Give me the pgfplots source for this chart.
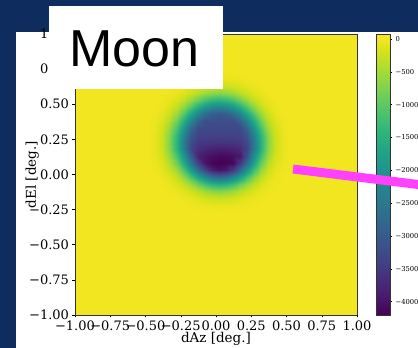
\documentclass[border=0pt]{standalone}
\usepackage{pgfplots}
\pgfplotsset{compat=1.18}
\usepackage{fontspec}
\setmainfont{DejaVu Serif}
\newfontfamily\arialfont{Liberation Sans}
\definecolor{bgblue}{HTML}{0E2D5E}
\definecolor{magline}{HTML}{FF40FF}
\begin{document}
\begin{tikzpicture}[x=1pt,y=1pt]
\useasboundingbox (0,0) rectangle (418,348);
\clip (0,0) rectangle (418,348);
\fill[bgblue] (0,0) rectangle (418,348);
\fill[white] (16,0) rectangle (418,316);
\begin{axis}[
  at={(75pt,33pt)}, anchor=south west,
  scale only axis, width=282pt, height=281pt,
  view={0}{90},
  xmin=-1, xmax=1, ymin=-1, ymax=1,
  enlargelimits=false,
  colormap/viridis,
  point meta min=-4203, point meta max=76,
  axis on top,
  xtick={-1,-0.75,-0.5,-0.25,0,0.25,0.5,0.75,1},
  ytick={-1,-0.75,-0.5,-0.25,0,0.25,0.5,0.75,1},
  xticklabels={−1.00,−0.75,−0.50,−0.25,0.00,0.25,0.50,0.75,1.00},
  yticklabels={−1.00,−0.75,−0.50,−0.25,0.00,0.25,0.50,0.75,1.00},
  ztick=\empty,
  xtick pos=bottom, ytick pos=left,
  tick align=outside,
  major tick length=2.5pt,
  tick style={black, line width=0.5pt},
  axis line style={black!80, line width=0.6pt},
  xticklabel style={font=\fontsize{13}{14}\selectfont},
  yticklabel style={font=\fontsize{13}{14}\selectfont},
  xlabel={dAz [deg.]}, ylabel={dEl [deg.]},
  every axis x label/.style={at={(axis description cs:0.5,-0.0996)}, anchor=base, font=\fontsize{13.5}{15}\selectfont},
  every axis y label/.style={at={(axis description cs:-0.152,0.5)}, rotate=90, anchor=center, font=\fontsize{13.5}{15}\selectfont},
  colorbar,
  colorbar style={
    at={(parent axis.north east)}, anchor=north west, xshift=10.5pt,
    scale only axis, width=14pt, height=281pt,
    ytick={-4000,-3500,-3000,-2500,-2000,-1500,-1000,-500,0},
    yticklabels={−4000,−3500,−3000,−2500,−2000,−1500,−1000,−500,0},
    yticklabel style={font=\fontsize{6.8}{8}\selectfont},
    ytick pos=right, yticklabel pos=right,
    tick align=outside, major tick length=2pt,
    tick style={black, line width=0.4pt},
    axis line style={black!80, line width=0.5pt},
  },
]
% uniform background level
\addplot3[surf, shader=flat, mesh/cols=2] coordinates {
(-1,-1,0) (1,-1,0)
(-1,1,0) (1,1,0)
};
% Moon signal
\addplot3[surf, shader=interp, mesh/cols=21] coordinates {
(-0.48,-0.27,0) (-0.43,-0.27,0) (-0.38,-0.27,0) (-0.33,-0.27,0) (-0.28,-0.27,0) (-0.23,-0.27,0) (-0.18,-0.27,0) (-0.13,-0.27,0) (-0.08,-0.27,0) (-0.03,-0.27,0) (0.02,-0.27,0) (0.07,-0.27,0) (0.12,-0.27,0) (0.17,-0.27,0) (0.22,-0.27,0) (0.27,-0.27,0) (0.32,-0.27,0) (0.37,-0.27,0) (0.42,-0.27,0) (0.47,-0.27,0) (0.52,-0.27,0)
(-0.48,-0.22,0) (-0.43,-0.22,0) (-0.38,-0.22,0) (-0.33,-0.22,0) (-0.28,-0.22,0) (-0.23,-0.22,0) (-0.18,-0.22,-13) (-0.13,-0.22,-42) (-0.08,-0.22,-61) (-0.03,-0.22,-74) (0.02,-0.22,-80) (0.07,-0.22,-74) (0.12,-0.22,-61) (0.17,-0.22,-42) (0.22,-0.22,-13) (0.27,-0.22,0) (0.32,-0.22,0) (0.37,-0.22,0) (0.42,-0.22,0) (0.47,-0.22,0) (0.52,-0.22,0)
(-0.48,-0.17,0) (-0.43,-0.17,0) (-0.38,-0.17,0) (-0.33,-0.17,0) (-0.28,-0.17,0) (-0.23,-0.17,-45) (-0.18,-0.17,-83) (-0.13,-0.17,-141) (-0.08,-0.17,-206) (-0.03,-0.17,-244) (0.02,-0.17,-257) (0.07,-0.17,-244) (0.12,-0.17,-206) (0.17,-0.17,-141) (0.22,-0.17,-83) (0.27,-0.17,-45) (0.32,-0.17,0) (0.37,-0.17,0) (0.42,-0.17,0) (0.47,-0.17,0) (0.52,-0.17,0)
(-0.48,-0.12,0) (-0.43,-0.12,0) (-0.38,-0.12,0) (-0.33,-0.12,-10) (-0.28,-0.12,-61) (-0.23,-0.12,-129) (-0.18,-0.12,-246) (-0.13,-0.12,-384) (-0.08,-0.12,-549) (-0.03,-0.12,-656) (0.02,-0.12,-707) (0.07,-0.12,-656) (0.12,-0.12,-549) (0.17,-0.12,-384) (0.22,-0.12,-246) (0.27,-0.12,-129) (0.32,-0.12,-61) (0.37,-0.12,-10) (0.42,-0.12,0) (0.47,-0.12,0) (0.52,-0.12,0)
(-0.48,-0.07,0) (-0.43,-0.07,0) (-0.38,-0.07,0) (-0.33,-0.07,-61) (-0.28,-0.07,-155) (-0.23,-0.07,-319) (-0.18,-0.07,-584) (-0.13,-0.07,-906) (-0.08,-0.07,-1229) (-0.03,-0.07,-1455) (0.02,-0.07,-1536) (0.07,-0.07,-1465) (0.12,-0.07,-1244) (0.17,-0.07,-919) (0.22,-0.07,-592) (0.27,-0.07,-323) (0.32,-0.07,-156) (0.37,-0.07,-61) (0.42,-0.07,0) (0.47,-0.07,0) (0.52,-0.07,0)
(-0.48,-0.02,0) (-0.43,-0.02,0) (-0.38,-0.02,-45) (-0.33,-0.02,-129) (-0.28,-0.02,-320) (-0.23,-0.02,-666) (-0.18,-0.02,-1166) (-0.13,-0.02,-1722) (-0.08,-0.02,-2211) (-0.03,-0.02,-2621) (0.02,-0.02,-2761) (0.07,-0.02,-2660) (0.12,-0.02,-2267) (0.17,-0.02,-1775) (0.22,-0.02,-1199) (0.27,-0.02,-681) (0.32,-0.02,-325) (0.37,-0.02,-130) (0.42,-0.02,-45) (0.47,-0.02,0) (0.52,-0.02,0)
(-0.48,0.03,0) (-0.43,0.03,-13) (-0.38,0.03,-84) (-0.33,0.03,-247) (-0.28,0.03,-585) (-0.23,0.03,-1157) (-0.18,0.03,-1882) (-0.13,0.03,-2673) (-0.08,0.03,-3352) (-0.03,0.03,-3814) (0.02,0.03,-4005) (0.07,0.03,-3894) (0.12,0.03,-3476) (0.17,0.03,-2791) (0.22,0.03,-1960) (0.27,0.03,-1196) (0.32,0.03,-598) (0.37,0.03,-250) (0.42,0.03,-84) (0.47,0.03,-13) (0.52,0.03,0)
(-0.48,0.08,0) (-0.43,0.08,-42) (-0.38,0.08,-142) (-0.33,0.08,-384) (-0.28,0.08,-894) (-0.23,0.08,-1654) (-0.18,0.08,-2548) (-0.13,0.08,-3385) (-0.08,0.08,-3974) (-0.03,0.08,-4156) (0.02,0.08,-4200) (0.07,0.08,-4190) (0.12,0.08,-4124) (0.17,0.08,-3539) (0.22,0.08,-2659) (0.27,0.08,-1712) (0.32,0.08,-914) (0.37,0.08,-389) (0.42,0.08,-143) (0.47,0.08,-42) (0.52,0.08,0)
(-0.48,0.13,0) (-0.43,0.13,-61) (-0.38,0.13,-206) (-0.33,0.13,-544) (-0.28,0.13,-1180) (-0.23,0.13,-2009) (-0.18,0.13,-3000) (-0.13,0.13,-3800) (-0.08,0.13,-3950) (-0.03,0.13,-4050) (0.02,0.13,-4100) (0.07,0.13,-4100) (0.12,0.13,-4050) (0.17,0.13,-3950) (0.22,0.13,-3150) (0.27,0.13,-2059) (0.32,0.13,-1199) (0.37,0.13,-549) (0.42,0.13,-207) (0.47,0.13,-61) (0.52,0.13,0)
(-0.48,0.18,0) (-0.43,0.18,-74) (-0.38,0.18,-244) (-0.33,0.18,-680) (-0.28,0.18,-1450) (-0.23,0.18,-2400) (-0.18,0.18,-3300) (-0.13,0.18,-3650) (-0.08,0.18,-3750) (-0.03,0.18,-3820) (0.02,0.18,-3860) (0.07,0.18,-3860) (0.12,0.18,-3800) (0.17,0.18,-3720) (0.22,0.18,-3350) (0.27,0.18,-2430) (0.32,0.18,-1450) (0.37,0.18,-680) (0.42,0.18,-244) (0.47,0.18,-74) (0.52,0.18,0)
(-0.48,0.23,0) (-0.43,0.23,-80) (-0.38,0.23,-256) (-0.33,0.23,-710) (-0.28,0.23,-1480) (-0.23,0.23,-2420) (-0.18,0.23,-3250) (-0.13,0.23,-3500) (-0.08,0.23,-3530) (-0.03,0.23,-3550) (0.02,0.23,-3560) (0.07,0.23,-3560) (0.12,0.23,-3540) (0.17,0.23,-3500) (0.22,0.23,-3270) (0.27,0.23,-2430) (0.32,0.23,-1480) (0.37,0.23,-710) (0.42,0.23,-256) (0.47,0.23,-80) (0.52,0.23,0)
(-0.48,0.28,0) (-0.43,0.28,-74) (-0.38,0.28,-243) (-0.33,0.28,-660) (-0.28,0.28,-1390) (-0.23,0.28,-2290) (-0.18,0.28,-3050) (-0.13,0.28,-3350) (-0.08,0.28,-3350) (-0.03,0.28,-3360) (0.02,0.28,-3360) (0.07,0.28,-3360) (0.12,0.28,-3350) (0.17,0.28,-3350) (0.22,0.28,-3050) (0.27,0.28,-2290) (0.32,0.28,-1390) (0.37,0.28,-660) (0.42,0.28,-243) (0.47,0.28,-74) (0.52,0.28,0)
(-0.48,0.33,0) (-0.43,0.33,-61) (-0.38,0.33,-205) (-0.33,0.33,-538) (-0.28,0.33,-1152) (-0.23,0.33,-1950) (-0.18,0.33,-2780) (-0.13,0.33,-3250) (-0.08,0.33,-3260) (-0.03,0.33,-3270) (0.02,0.33,-3270) (0.07,0.33,-3270) (0.12,0.33,-3260) (0.17,0.33,-3250) (0.22,0.33,-2780) (0.27,0.33,-1950) (0.32,0.33,-1152) (0.37,0.33,-538) (0.42,0.33,-205) (0.47,0.33,-61) (0.52,0.33,0)
(-0.48,0.38,0) (-0.43,0.38,-42) (-0.38,0.38,-141) (-0.33,0.38,-378) (-0.28,0.38,-864) (-0.23,0.38,-1552) (-0.18,0.38,-2288) (-0.13,0.38,-2880) (-0.08,0.38,-3200) (-0.03,0.38,-3200) (0.02,0.38,-3200) (0.07,0.38,-3200) (0.12,0.38,-3200) (0.17,0.38,-2880) (0.22,0.38,-2288) (0.27,0.38,-1552) (0.32,0.38,-864) (0.37,0.38,-378) (0.42,0.38,-141) (0.47,0.38,-42) (0.52,0.38,0)
(-0.48,0.43,0) (-0.43,0.43,-13) (-0.38,0.43,-83) (-0.33,0.43,-243) (-0.28,0.43,-566) (-0.23,0.43,-1088) (-0.18,0.43,-1696) (-0.13,0.43,-2288) (-0.08,0.43,-2720) (-0.03,0.43,-2963) (0.02,0.43,-3040) (0.07,0.43,-2963) (0.12,0.43,-2720) (0.17,0.43,-2288) (0.22,0.43,-1696) (0.27,0.43,-1088) (0.32,0.43,-566) (0.37,0.43,-243) (0.42,0.43,-83) (0.47,0.43,-13) (0.52,0.43,0)
(-0.48,0.48,0) (-0.43,0.48,0) (-0.38,0.48,-45) (-0.33,0.48,-128) (-0.28,0.48,-314) (-0.23,0.48,-640) (-0.18,0.48,-1088) (-0.13,0.48,-1552) (-0.08,0.48,-1920) (-0.03,0.48,-2208) (0.02,0.48,-2288) (0.07,0.48,-2208) (0.12,0.48,-1920) (0.17,0.48,-1552) (0.22,0.48,-1088) (0.27,0.48,-640) (0.32,0.48,-314) (0.37,0.48,-128) (0.42,0.48,-45) (0.47,0.48,0) (0.52,0.48,0)
(-0.48,0.53,0) (-0.43,0.53,0) (-0.38,0.53,0) (-0.33,0.53,-61) (-0.28,0.53,-154) (-0.23,0.53,-314) (-0.18,0.53,-566) (-0.13,0.53,-864) (-0.08,0.53,-1152) (-0.03,0.53,-1344) (0.02,0.53,-1408) (0.07,0.53,-1344) (0.12,0.53,-1152) (0.17,0.53,-864) (0.22,0.53,-566) (0.27,0.53,-314) (0.32,0.53,-154) (0.37,0.53,-61) (0.42,0.53,0) (0.47,0.53,0) (0.52,0.53,0)
(-0.48,0.58,0) (-0.43,0.58,0) (-0.38,0.58,0) (-0.33,0.58,-10) (-0.28,0.58,-61) (-0.23,0.58,-128) (-0.18,0.58,-243) (-0.13,0.58,-378) (-0.08,0.58,-538) (-0.03,0.58,-640) (0.02,0.58,-688) (0.07,0.58,-640) (0.12,0.58,-538) (0.17,0.58,-378) (0.22,0.58,-243) (0.27,0.58,-128) (0.32,0.58,-61) (0.37,0.58,-10) (0.42,0.58,0) (0.47,0.58,0) (0.52,0.58,0)
(-0.48,0.63,0) (-0.43,0.63,0) (-0.38,0.63,0) (-0.33,0.63,0) (-0.28,0.63,0) (-0.23,0.63,-45) (-0.18,0.63,-83) (-0.13,0.63,-141) (-0.08,0.63,-205) (-0.03,0.63,-243) (0.02,0.63,-256) (0.07,0.63,-243) (0.12,0.63,-205) (0.17,0.63,-141) (0.22,0.63,-83) (0.27,0.63,-45) (0.32,0.63,0) (0.37,0.63,0) (0.42,0.63,0) (0.47,0.63,0) (0.52,0.63,0)
(-0.48,0.68,0) (-0.43,0.68,0) (-0.38,0.68,0) (-0.33,0.68,0) (-0.28,0.68,0) (-0.23,0.68,0) (-0.18,0.68,-13) (-0.13,0.68,-42) (-0.08,0.68,-61) (-0.03,0.68,-74) (0.02,0.68,-80) (0.07,0.68,-74) (0.12,0.68,-61) (0.17,0.68,-42) (0.22,0.68,-13) (0.27,0.68,0) (0.32,0.68,0) (0.37,0.68,0) (0.42,0.68,0) (0.47,0.68,0) (0.52,0.68,0)
(-0.48,0.73,0) (-0.43,0.73,0) (-0.38,0.73,0) (-0.33,0.73,0) (-0.28,0.73,0) (-0.23,0.73,0) (-0.18,0.73,0) (-0.13,0.73,0) (-0.08,0.73,0) (-0.03,0.73,0) (0.02,0.73,0) (0.07,0.73,0) (0.12,0.73,0) (0.17,0.73,0) (0.22,0.73,0) (0.27,0.73,0) (0.32,0.73,0) (0.37,0.73,0) (0.42,0.73,0) (0.47,0.73,0) (0.52,0.73,0)
};
\end{axis}
\fill[white] (49,258.5) rectangle (223,342);
\node[anchor=base, font=\arialfont\fontsize{52}{60}\selectfont, inner sep=0pt] at (134.5,281) {Moon};
\draw[magline, line width=9pt] (293,179) -- (440,160.8);
\end{tikzpicture}
\end{document}
